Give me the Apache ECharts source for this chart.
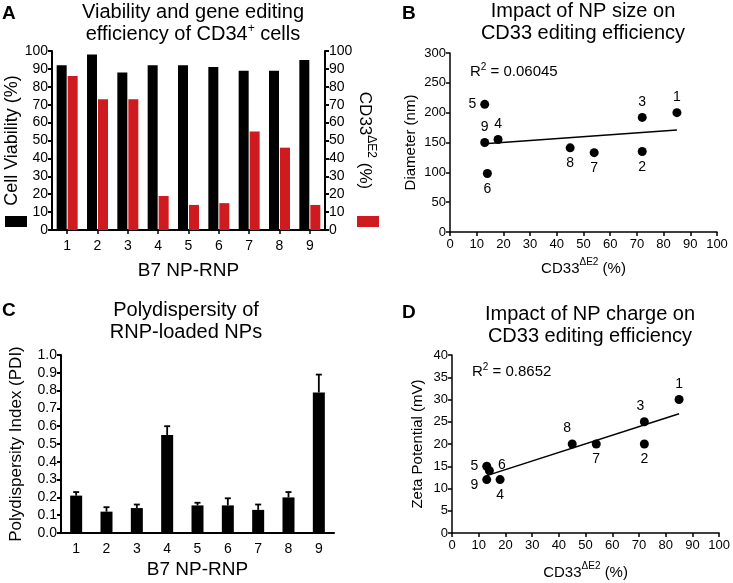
<!DOCTYPE html>
<html><head><meta charset="utf-8">
<script src="https://cdn.jsdelivr.net/npm/echarts@6/dist/echarts.min.js"></script>
<style>html,body{margin:0;padding:0;background:#fff}#c{width:733px;height:583px}</style>
</head><body><div id="c"></div>
<script>
// ---- data ----
const categories = ['1','2','3','4','5','6','7','8','9'];
const viability = [92, 98, 88, 92, 92, 91, 89, 89, 95];
const editing = [86, 73, 73, 19, 14, 15, 55, 46, 14];
const pdi = [0.21, 0.12, 0.14, 0.55, 0.155, 0.155, 0.13, 0.20, 0.79];
const pdiErr = [0.02, 0.025, 0.02, 0.05, 0.015, 0.04, 0.03, 0.03, 0.10];
const cd33 = [85, 72, 72, 18, 13, 14, 54, 45, 13];
const diameter = [200, 135, 192, 155, 214, 98, 133, 141, 150];
const zeta = [30, 20, 25, 12, 15, 14, 20, 20, 12];
const fitB = [[13, 148], [85, 171]];
const fitD = [[13, 12.9], [85, 26.8]];
const r2B = '0.06045';
const r2D = '0.8652';

// ---- label placement (style only) ----
const posB = ['top','bottom','top','top','left','bottom','bottom','bottom','top'];
const offB = [[0,0],[0,0],[0,0],[0,0],[0,0],[0,0],[0,0],[0,0],[0,0]];
const posD = ['top','bottom','top','bottom','left','right','bottom','top','left'];
const offD = [[0,0],[0,0],[-4,0],[0,0],[0,0],[0,-6],[0,0],[-5,0],[0,6]];

const FF = 'Liberation Sans, Arial, Helvetica, sans-serif';
const BLACK = '#000';
const RED = '#cf1b20';

function rich(fs){
  return {
    a:{fontSize:fs, fontFamily:FF, color:BLACK, lineHeight:fs+8},
    b:{fontSize:Math.round(fs*0.68), fontFamily:FF, color:BLACK, verticalAlign:'top', lineHeight:Math.round(fs*0.8)}
  };
}
function axisCommon(lw, fs){
  return {
    axisLine:{show:true, onZero:false, lineStyle:{color:BLACK, width:lw}},
    axisTick:{show:true, length:4, lineStyle:{color:BLACK, width:lw}},
    splitLine:{show:false},
    axisLabel:{color:BLACK, fontSize:fs, fontFamily:FF, margin:4}
  };
}

const chart = echarts.init(document.getElementById('c'), null, {renderer:'canvas'});

const option = {
  animation:false,
  backgroundColor:'#fff',
  textStyle:{fontFamily:FF, color:BLACK},
  grid:[
    {left:52, top:51, width:273, height:179},
    {left:450, top:53, width:267, height:179},
    {left:61, top:355, width:273, height:178},
    {left:452, top:355, width:270, height:178}
  ],
  legend:[
    {data:['Cell Viability'], left:5, top:216, padding:0, itemWidth:22, itemHeight:11, icon:'rect', formatter:()=>'', selectedMode:false},
    {data:['CD33 editing'], left:357, top:216, padding:0, itemWidth:22, itemHeight:11, icon:'rect', formatter:()=>'', selectedMode:false}
  ],
  xAxis:[
    Object.assign(axisCommon(2,14), {
      type:'category', gridIndex:0, data:categories,
      axisTick:{show:true, alignWithLabel:true, length:4, lineStyle:{color:BLACK,width:1.5}},
      axisLabel:{color:BLACK, fontSize:14, fontFamily:FF, margin:9},
      name:'B7 NP-RNP', nameLocation:'middle', nameGap:31,
      nameTextStyle:{color:BLACK, fontSize:19, fontFamily:FF}
    }),
    Object.assign(axisCommon(1.5,13), {
      type:'value', gridIndex:1, min:0, max:100, interval:10,
      axisLabel:{color:BLACK, fontSize:13, fontFamily:FF, margin:6},
      name:'{a|CD33}{b|ΔE2}{a| (%)}', nameLocation:'middle', nameGap:25,
      nameTextStyle:{rich:rich(15)}
    }),
    Object.assign(axisCommon(2,14), {
      type:'category', gridIndex:2, data:categories,
      axisTick:{show:false},
      axisLabel:{color:BLACK, fontSize:14, fontFamily:FF, margin:9},
      name:'B7 NP-RNP', nameLocation:'middle', nameGap:27,
      nameTextStyle:{color:BLACK, fontSize:19, fontFamily:FF}
    }),
    Object.assign(axisCommon(1.5,13), {
      type:'value', gridIndex:3, min:0, max:100, interval:10,
      axisLabel:{color:BLACK, fontSize:13, fontFamily:FF, margin:6},
      name:'{a|CD33}{b|ΔE2}{a| (%)}', nameLocation:'middle', nameGap:28,
      nameTextStyle:{rich:rich(15)}
    })
  ],
  yAxis:[
    Object.assign(axisCommon(2,14), {
      type:'value', gridIndex:0, min:0, max:100, interval:10, position:'left',
      name:'Cell Viability (%)', nameLocation:'middle', nameGap:30,
      nameTextStyle:{color:BLACK, fontSize:18, fontFamily:FF}
    }),
    Object.assign(axisCommon(2,14), {
      type:'value', gridIndex:0, min:0, max:100, interval:10, position:'right',
      name:'{a|CD33}{b|ΔE2}{a| (%)}', nameLocation:'middle', nameGap:21, nameRotate:-90,
      nameTextStyle:{rich:rich(17)}
    }),
    Object.assign(axisCommon(1.5,13), {
      type:'value', gridIndex:1, min:0, max:300, interval:50,
      name:'Diameter (nm)', nameLocation:'middle', nameGap:32,
      nameTextStyle:{color:BLACK, fontSize:15, fontFamily:FF}
    }),
    Object.assign(axisCommon(2,14), {
      type:'value', gridIndex:2, min:0, max:1, interval:0.1,
      axisLabel:{color:BLACK, fontSize:14, fontFamily:FF, margin:4, formatter:v=>v.toFixed(1)},
      name:'Polydispersity Index (PDI)', nameLocation:'middle', nameGap:36,
      nameTextStyle:{color:BLACK, fontSize:17, fontFamily:FF}
    }),
    Object.assign(axisCommon(1.5,13), {
      type:'value', gridIndex:3, min:0, max:40, interval:5,
      name:'Zeta Potential (mV)', nameLocation:'middle', nameGap:27,
      nameTextStyle:{color:BLACK, fontSize:15, fontFamily:FF}
    })
  ],
  series:[
    {name:'Cell Viability', type:'bar', xAxisIndex:0, yAxisIndex:0, data:viability,
     barWidth:10, barGap:'10%', itemStyle:{color:BLACK}},
    {name:'CD33 editing', type:'bar', xAxisIndex:0, yAxisIndex:1, data:editing,
     barWidth:10, barGap:'10%', itemStyle:{color:RED}},
    // B
    {name:'fitB', type:'line', xAxisIndex:1, yAxisIndex:2, data:fitB, showSymbol:false, symbol:'none',
     lineStyle:{color:BLACK, width:1.5}, z:2},
    {name:'size', type:'scatter', xAxisIndex:1, yAxisIndex:2, symbolSize:9, itemStyle:{color:BLACK, opacity:1}, z:3,
     data:cd33.map((x,i)=>({value:[x, diameter[i]], label:{position:posB[i], offset:offB[i]}})),
     label:{show:true, formatter:p=>categories[p.dataIndex], color:BLACK, fontSize:14, fontFamily:FF, distance:4}},
    // C
    {name:'PDI', type:'bar', xAxisIndex:2, yAxisIndex:3, data:pdi, barWidth:12, itemStyle:{color:BLACK}},
    {name:'PDI err', type:'custom', xAxisIndex:2, yAxisIndex:3,
     data:pdi.map((v,i)=>[i, v, pdiErr[i]]),
     encode:{x:0, y:1},
     renderItem:function(params, api){
       const i = api.value(0), v = api.value(1), e = api.value(2);
       const base = api.coord([i, v]);
       const top = api.coord([i, v + e]);
       const st = {stroke:BLACK, lineWidth:1.8};
       return {type:'group', children:[
         {type:'line', shape:{x1:base[0], y1:base[1], x2:top[0], y2:top[1]}, style:st},
         {type:'line', shape:{x1:top[0]-3, y1:top[1], x2:top[0]+3, y2:top[1]}, style:st}
       ]};
     }, z:3},
    // D
    {name:'fitD', type:'line', xAxisIndex:3, yAxisIndex:4, data:fitD, showSymbol:false, symbol:'none',
     lineStyle:{color:BLACK, width:1.5}, z:2},
    {name:'charge', type:'scatter', xAxisIndex:3, yAxisIndex:4, symbolSize:9, itemStyle:{color:BLACK, opacity:1}, z:3,
     data:cd33.map((x,i)=>({value:[x, zeta[i]], label:{position:posD[i], offset:offD[i]}})),
     label:{show:true, formatter:p=>categories[p.dataIndex], color:BLACK, fontSize:14, fontFamily:FF, distance:4}}
  ],
  graphic:[
    {type:'text', left:2, top:4, style:{text:'A', fontSize:19, fontWeight:'bold', fontFamily:FF, fill:BLACK}},
    {type:'text', left:402, top:4, style:{text:'B', fontSize:19, fontWeight:'bold', fontFamily:FF, fill:BLACK}},
    {type:'text', left:2, top:301, style:{text:'C', fontSize:19, fontWeight:'bold', fontFamily:FF, fill:BLACK}},
    {type:'text', left:402, top:303, style:{text:'D', fontSize:19, fontWeight:'bold', fontFamily:FF, fill:BLACK}},
    {type:'text', x:193, y:1, style:{text:'{a|Viability and gene editing}\n{a|efficiency of CD34}{b|+}{a| cells}',
      align:'center', verticalAlign:'top', fill:BLACK,
      rich:{a:{fontSize:20, fontFamily:FF, fill:BLACK, lineHeight:22}, b:{fontSize:12, fontFamily:FF, fill:BLACK, verticalAlign:'top', lineHeight:12}}}},
    {type:'text', x:583, y:0, style:{text:'Impact of NP size on\nCD33 editing efficiency',
      align:'center', verticalAlign:'top', fill:BLACK, fontSize:20, fontFamily:FF, lineHeight:22}},
    {type:'text', x:186, y:299, style:{text:'Polydispersity of\nRNP-loaded NPs',
      align:'center', verticalAlign:'top', fill:BLACK, fontSize:20, fontFamily:FF, lineHeight:22}},
    {type:'text', x:590, y:303, style:{text:'Impact of NP charge on\nCD33 editing efficiency',
      align:'center', verticalAlign:'top', fill:BLACK, fontSize:20, fontFamily:FF, lineHeight:22}},
    {type:'text', x:470, y:62, style:{text:'{a|R}{b|2}{a| = ' + r2B + '}', fill:BLACK,
      rich:{a:{fontSize:15, fontFamily:FF, fill:BLACK, lineHeight:20}, b:{fontSize:10, fontFamily:FF, fill:BLACK, verticalAlign:'top', lineHeight:10}}}},
    {type:'text', x:472, y:362, style:{text:'{a|R}{b|2}{a| = ' + r2D + '}', fill:BLACK,
      rich:{a:{fontSize:15, fontFamily:FF, fill:BLACK, lineHeight:20}, b:{fontSize:10, fontFamily:FF, fill:BLACK, verticalAlign:'top', lineHeight:10}}}}
  ]
};
chart.setOption(option);
</script></body></html>
